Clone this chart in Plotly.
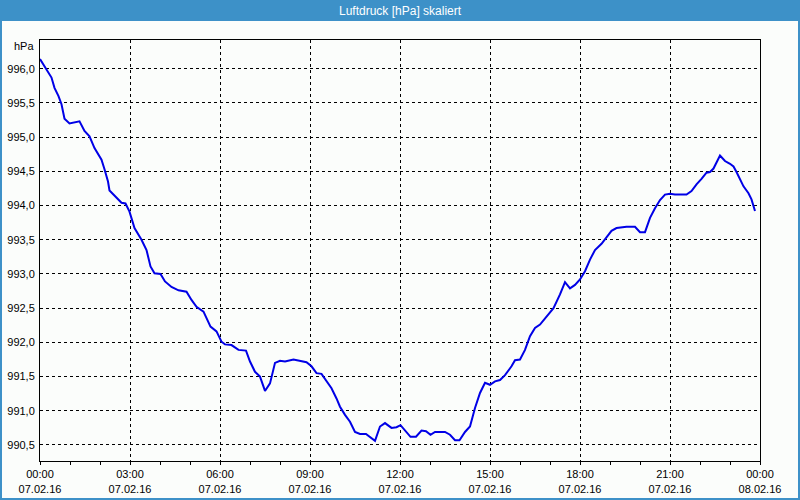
import plotly.graph_objects as go

DATE = "2016-02-07"
times = ["00:00","00:12","00:23","00:29","00:37","00:43","00:49","00:59","01:09","01:19",
         "01:29","01:39","01:49","02:03","02:09","02:16","02:19","02:33","02:43","02:51",
         "02:59","03:09","03:23","03:33","03:41","03:49","04:01","04:10","04:23","04:37",
         "04:53","05:03","05:13","05:27","05:33","05:41","05:53","06:03","06:10","06:23",
         "06:37","06:52","07:00","07:10","07:20","07:30","07:40","07:50","08:00","08:10",
         "08:27","08:43","08:53","09:03","09:13","09:23","09:33","09:43","09:53","10:00",
         "10:10","10:20","10:30","10:40","10:52","11:00","11:10","11:20","11:30","11:43",
         "11:53","12:01","12:10","12:21","12:32","12:43","12:52","13:01","13:10","13:30",
         "13:40","13:50","13:59","14:10","14:20","14:30","14:40","14:50","15:00","15:10",
         "15:20","15:30","15:43","15:50","16:00","16:10","16:20","16:30","16:40","16:53",
         "17:07","17:20","17:30","17:40","17:50","18:00","18:10","18:20","18:30","18:43",
         "18:53","19:03","19:13","19:33","19:50","20:00","20:10","20:20","20:30","20:40",
         "20:50","21:00","21:10","21:33","21:43","21:53","22:03","22:13","22:20","22:27",
         "22:40","22:50","23:00","23:07","23:13","23:20","23:27","23:37","23:43","23:50"]
pressure = [996.14,995.99,995.87,995.72,995.60,995.48,995.27,995.20,995.21,995.23,
            995.09,995.01,994.84,994.67,994.53,994.35,994.22,994.11,994.04,994.03,
            993.91,993.67,993.50,993.35,993.11,993.01,993.00,992.89,992.81,992.76,
            992.74,992.62,992.52,992.45,992.35,992.23,992.16,992.01,991.97,991.96,
            991.89,991.88,991.72,991.57,991.50,991.29,991.40,991.70,991.73,991.72,
            991.75,991.73,991.71,991.65,991.55,991.54,991.43,991.33,991.18,991.06,
            990.94,990.84,990.69,990.66,990.66,990.62,990.56,990.77,990.82,990.75,
            990.76,990.79,990.72,990.62,990.62,990.71,990.70,990.65,990.69,990.69,
            990.65,990.57,990.57,990.69,990.77,991.04,991.26,991.41,991.38,991.43,
            991.45,991.52,991.65,991.74,991.75,991.89,992.09,992.21,992.26,992.38,
            992.50,992.70,992.88,992.79,992.84,992.92,993.04,993.21,993.35,993.44,
            993.54,993.63,993.67,993.69,993.69,993.61,993.61,993.82,993.96,994.08,
            994.16,994.17,994.16,994.16,994.21,994.31,994.39,994.48,994.49,994.54,
            994.73,994.65,994.61,994.57,994.49,994.38,994.28,994.18,994.09,993.92]

tick_times = ["2016-02-07 00:00","2016-02-07 03:00","2016-02-07 06:00","2016-02-07 09:00",
              "2016-02-07 12:00","2016-02-07 15:00","2016-02-07 18:00","2016-02-07 21:00",
              "2016-02-08 00:00"]
tick_labels = ["00:00<br>07.02.16","03:00<br>07.02.16","06:00<br>07.02.16","09:00<br>07.02.16",
               "12:00<br>07.02.16","15:00<br>07.02.16","18:00<br>07.02.16","21:00<br>07.02.16",
               "00:00<br>08.02.16"]
y_ticks = [990.5, 991.0, 991.5, 992.0, 992.5, 993.0, 993.5, 994.0, 994.5, 995.0, 995.5, 996.0]

title_text = "Luftdruck [hPa] skaliert"
unit_text = "hPa"

x = [f"{DATE} {t}" for t in times]

BG = "#fbfdfb"
BLUE = "#3d91c8"
FONT = "Liberation Sans"

W, H = 800, 500
L, R, T, B = 40, 40, 40, 39
pw, ph = W - L - R, H - T - B

def px(xp):
    return (xp - L) / pw

def py(yp):
    return (H - B - yp) / ph

fig = go.Figure()
fig.add_trace(go.Scatter(x=x, y=pressure, mode="lines",
                         line=dict(color="#0000e6", width=2), hoverinfo="skip"))

grid = dict(showgrid=True, gridcolor="black", gridwidth=1, griddash="3px,3px")

fig.update_layout(
    width=W, height=H,
    margin=dict(l=L, r=R, t=T, b=B, pad=0, autoexpand=False),
    paper_bgcolor=BG, plot_bgcolor=BG,
    showlegend=False,
    separators=",.",
    font=dict(family=FONT, size=11, color="black"),
    xaxis=dict(range=["2016-02-07 00:00", "2016-02-08 00:00"],
               tickvals=tick_times, ticktext=tick_labels,
               ticks="outside", ticklen=3, tickcolor="black",
               minor=dict(dtick=3600000, ticks="outside", ticklen=3, tickcolor="black",
                          showgrid=False),
               showline=True, linecolor="black", linewidth=1, mirror=True,
               zeroline=False, automargin=False, **grid),
    yaxis=dict(range=[990.266, 996.419], tickvals=y_ticks, tickformat=".1f",
               ticks="outside", ticklen=2, tickcolor=BG,
               showline=True, linecolor="black", linewidth=1, mirror=True,
               zeroline=False, automargin=False, **grid),
    shapes=[
        dict(type="rect", xref="paper", yref="paper",
             x0=px(0), x1=px(W), y0=py(21), y1=py(0),
             fillcolor=BLUE, line=dict(width=0), layer="above"),
        dict(type="rect", xref="paper", yref="paper",
             x0=px(1), x1=px(W - 1), y0=py(H - 1), y1=py(10),
             fillcolor="rgba(0,0,0,0)", line=dict(color=BLUE, width=2), layer="above"),
    ],
    annotations=[
        dict(text=title_text, xref="paper", yref="paper", x=px(W / 2), y=py(10.5),
             xanchor="center", yanchor="middle", showarrow=False,
             font=dict(family=FONT, size=12, color="white")),
        dict(text=unit_text, xref="paper", yref="paper", x=px(36), y=py(46),
             xanchor="right", yanchor="middle", showarrow=False,
             font=dict(family=FONT, size=11, color="black")),
    ],
)

fig.write_html("out.html", config={"displayModeBar": False},
               post_script="document.body.style.margin='0';document.body.style.overflow='hidden';")
